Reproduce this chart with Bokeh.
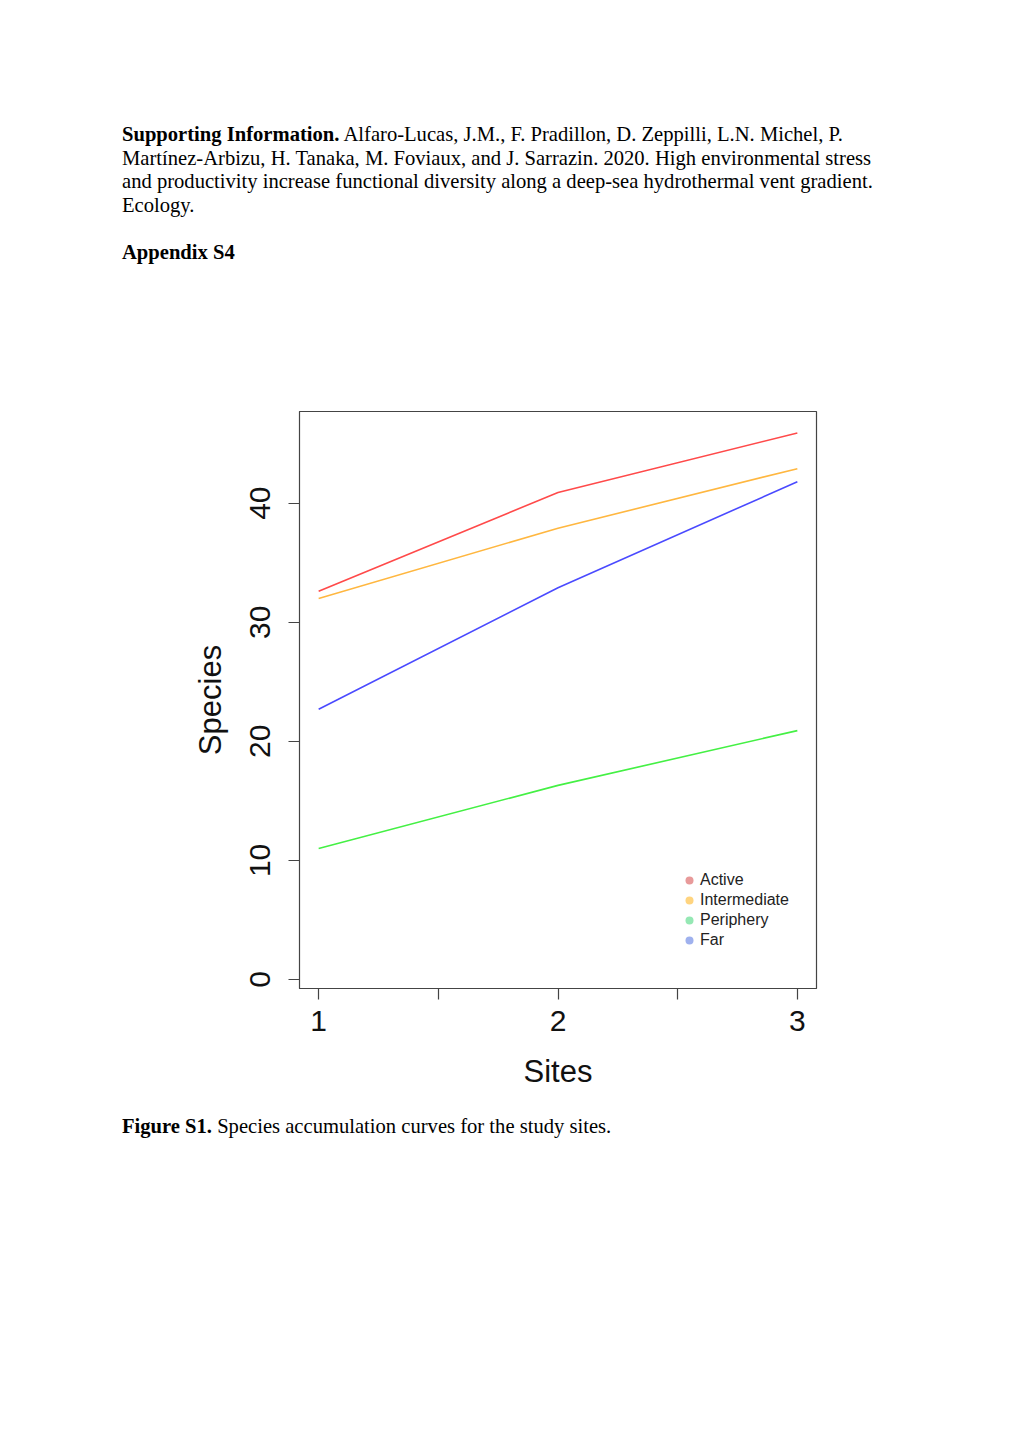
from bokeh.plotting import figure
from bokeh.models import Div, FixedTicker, Range1d, Legend, LegendItem
from bokeh.layouts import column
from bokeh.embed import file_html
from bokeh.resources import INLINE

sites = [1, 2, 3]
active = [32.6, 40.9, 45.9]
intermediate = [32.0, 37.9, 42.9]
periphery = [11.0, 16.3, 20.9]
far = [22.7, 32.9, 41.8]
series_names = ["Active", "Intermediate", "Periphery", "Far"]
line_colors = ["#ff4a4a", "#ffb740", "#44f044", "#4a4aff"]
legend_colors = ["#e89a9a", "#ffd47f", "#95e8b4", "#9fb1ee"]
y_ticks = [0, 10, 20, 30, 40]
x_ticks = [1, 1.5, 2, 2.5, 3]

HEADER_H = 300
FIG_H = 1100 - HEADER_H

header_html = (
    '<div style="position:absolute; left:122px; top:123px; width:820px; '
    'font-family:\'Liberation Serif\', serif; font-size:20.6px; line-height:23.5px; color:#000;">'
    '<b>Supporting Information.</b> Alfaro-Lucas, J.M., F. Pradillon, D. Zeppilli, L.N. Michel, P.<br>'
    'Martínez-Arbizu, H. Tanaka, M. Foviaux, and J. Sarrazin. 2020. High environmental stress<br>'
    'and productivity increase functional diversity along a deep-sea hydrothermal vent gradient.<br>'
    'Ecology.<br><br><b>Appendix S4</b></div>'
)
header = Div(text=header_html, width=1020, height=HEADER_H, margin=0)

p = figure(width=1020, height=FIG_H, output_backend="svg", toolbar_location=None,
           x_range=Range1d(0.92, 3.08), y_range=Range1d(-0.76, 47.7),
           min_border_left=299, min_border_right=204, min_border_top=411 - HEADER_H,
           min_border_bottom=1100 - 988, margin=0)
p.background_fill_color = "white"
p.border_fill_color = "white"
p.outline_line_color = "#444444"
p.outline_line_width = 1.2
p.grid.visible = False

for ax in (p.xaxis[0], p.yaxis[0]):
    ax.axis_line_color = "#444444"
    ax.major_tick_line_color = "#444444"
    ax.major_tick_line_width = 1.2
    ax.major_tick_in = 0
    ax.major_tick_out = 11
    ax.minor_tick_line_color = None
    ax.major_label_text_font = "Liberation Sans"
    ax.major_label_text_font_size = "30px"
    ax.major_label_text_color = "#111111"
    ax.axis_label_text_font = "Liberation Sans"
    ax.axis_label_text_font_size = "31px"
    ax.axis_label_text_font_style = "normal"
    ax.axis_label_text_color = "#111111"

p.xaxis.ticker = FixedTicker(ticks=x_ticks)
p.xaxis.major_label_overrides = {1.5: "", 2.5: ""}
p.xaxis.axis_label = "Sites"
p.xaxis.major_label_standoff = 11
p.xaxis.axis_label_standoff = 20

p.yaxis.ticker = FixedTicker(ticks=y_ticks)
p.yaxis.major_label_orientation = "vertical"
p.yaxis.axis_label = "Species"
p.yaxis.major_label_standoff = 18
p.yaxis.axis_label_standoff = 20

for vals, col in zip([active, intermediate, periphery, far], line_colors):
    p.line(sites, vals, line_color=col, line_width=1.6)

items = []
for name, col in zip(series_names, legend_colors):
    r = p.scatter([sites[0]], [-100], size=9, marker="circle", fill_color=col, line_color=None)
    items.append(LegendItem(label=name, renderers=[r]))
legend = Legend(items=items, location=(380, 38), background_fill_alpha=0,
                border_line_color=None, label_text_font="Liberation Sans",
                label_text_font_size="16px", label_text_color="#222222",
                glyph_width=20, glyph_height=20, label_standoff=1, spacing=0,
                label_height=20, padding=4)
p.add_layout(legend, "center")

caption_html = (
    '<div style="position:absolute; left:122px; top:15px; '
    'font-family:\'Liberation Serif\', serif; font-size:20.6px; line-height:23.5px; color:#000;">'
    '<b>Figure S1.</b> Species accumulation curves for the study sites.</div>'
)
caption = Div(text=caption_html, width=1020, height=1443 - 1100, margin=0)

layout = column(header, p, caption, spacing=0)
open("out.html", "w").write(file_html(layout, INLINE))
